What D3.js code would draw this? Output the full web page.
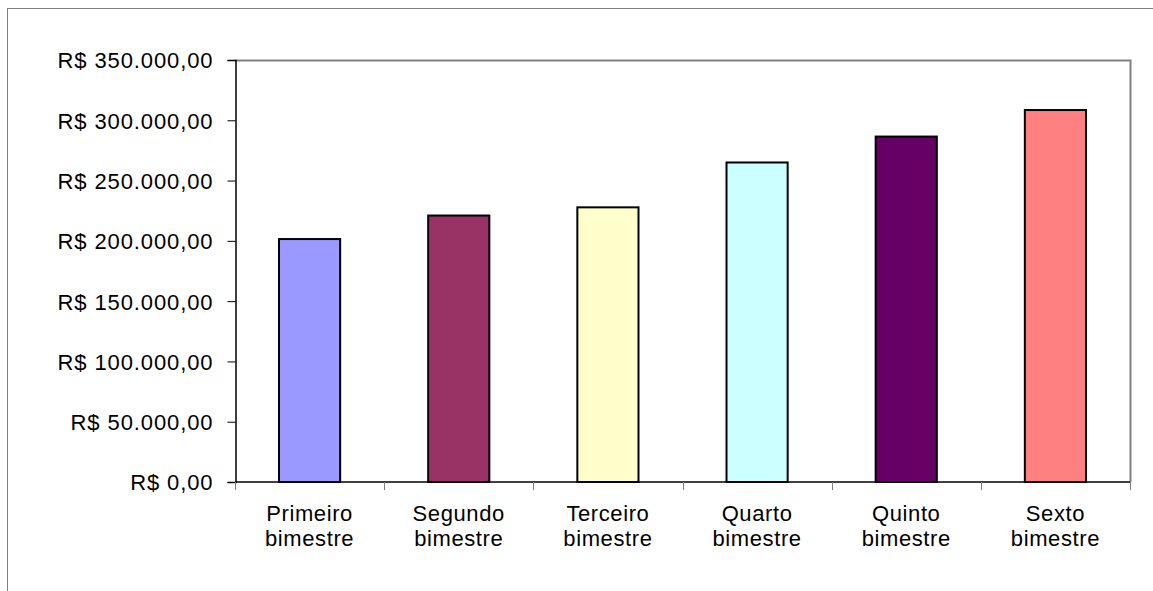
<!DOCTYPE html>
<html>
<head>
<meta charset="utf-8">
<script src="https://cdn.jsdelivr.net/npm/d3@7"></script>
<style>
  html, body { margin: 0; padding: 0; background: #fff; }
  svg { display: block; }
  text { font-family: "Liberation Sans", Arial, sans-serif; fill: #000; }
</style>
</head>
<body>
<svg id="chart" width="1153" height="591"></svg>
<script>
// Receita por bimestre
const categories = [
  ["Primeiro", "bimestre"],
  ["Segundo", "bimestre"],
  ["Terceiro", "bimestre"],
  ["Quarto", "bimestre"],
  ["Quinto", "bimestre"],
  ["Sexto", "bimestre"]
];
const values = [201500, 221000, 227800, 265000, 286500, 308500];
const barColors = ["#9999FF", "#993366", "#FFFFCC", "#CCFFFF", "#660066", "#FF8080"];
const yTicks = [0, 50000, 100000, 150000, 200000, 250000, 300000, 350000];

const svg = d3.select("#chart");
const W = 1153, H = 591;
const plot = { left: 235, top: 60, right: 1130, bottom: 482 };
const FONT = "'Liberation Sans', Arial, sans-serif";

// Chart area border
svg.append("rect")
  .attr("x", 7.5).attr("y", 8.5)
  .attr("width", W + 10).attr("height", H + 10)
  .attr("fill", "#fff").attr("stroke", "#808080").attr("stroke-width", 1);

const x = d3.scaleBand()
  .domain(d3.range(categories.length))
  .range([plot.left, plot.right])
  .paddingInner(0.59).paddingOuter(0.295);

const xCat = d3.scaleBand()
  .domain(d3.range(categories.length))
  .range([plot.left, plot.right]);

const y = d3.scaleLinear().domain([0, 350000]).range([plot.bottom, plot.top]);

// Plot area frame (top and right edges)
svg.append("path")
  .attr("d", `M${plot.left},${plot.top + 0.5}H${plot.right + 0.5}V${plot.bottom}`)
  .attr("fill", "none").attr("stroke", "#808080").attr("stroke-width", 2);

const fmt = v => "R$ " + d3.format(",.2f")(v).replace(/,/g, "#").replace(".", ",").replace(/#/g, ".");

// Y axis
const yAxis = svg.append("g")
  .attr("transform", `translate(${plot.left + 0.5},0)`)
  .call(d3.axisLeft(y).tickValues(yTicks).tickSize(8).tickPadding(14).tickFormat(fmt));
yAxis.attr("font-size", 22).attr("font-family", FONT);
yAxis.select(".domain").attr("stroke", "#000").attr("stroke-width", 1.5);
yAxis.selectAll(".tick line").attr("stroke", "#000");
yAxis.selectAll(".tick text")
  .attr("fill", "#000")
  .attr("dy", "0.36em")
  .style("letter-spacing", "0.9px");

// Bars
svg.append("g").selectAll("rect")
  .data(values)
  .join("rect")
  .attr("x", (d, i) => x(i))
  .attr("y", d => y(d))
  .attr("width", x.bandwidth())
  .attr("height", d => y(0) - y(d))
  .attr("fill", (d, i) => barColors[i])
  .attr("stroke", "#000")
  .attr("stroke-width", 2);

// X axis
const xAxisG = svg.append("g").attr("transform", `translate(0,${plot.bottom})`);
xAxisG.append("line")
  .attr("x1", plot.left).attr("x2", plot.right)
  .attr("stroke", "#000").attr("stroke-width", 1.5);
const catEdges = d3.range(categories.length + 1).map(i =>
  i < categories.length ? xCat(i) : xCat(categories.length - 1) + xCat.bandwidth());
xAxisG.selectAll("line.tick")
  .data(catEdges)
  .join("line")
  .attr("class", "tick")
  .attr("x1", d => Math.round(d) + 0.5).attr("x2", d => Math.round(d) + 0.5)
  .attr("y1", 0).attr("y2", 8)
  .attr("stroke", "#808080").attr("stroke-width", 1);

const labels = xAxisG.selectAll("text.cat")
  .data(categories)
  .join("text")
  .attr("class", "cat")
  .attr("text-anchor", "middle")
  .attr("font-size", 22)
  .attr("font-family", FONT)
  .style("letter-spacing", "0.6px")
  .attr("x", (d, i) => xCat(i) + xCat.bandwidth() / 2)
  .attr("y", 39);
labels.selectAll("tspan")
  .data(d => d)
  .join("tspan")
  .attr("x", function () { return d3.select(this.parentNode).attr("x"); })
  .attr("dy", (d, i) => i === 0 ? 0 : 25)
  .text(d => d);
</script>
</body>
</html>
